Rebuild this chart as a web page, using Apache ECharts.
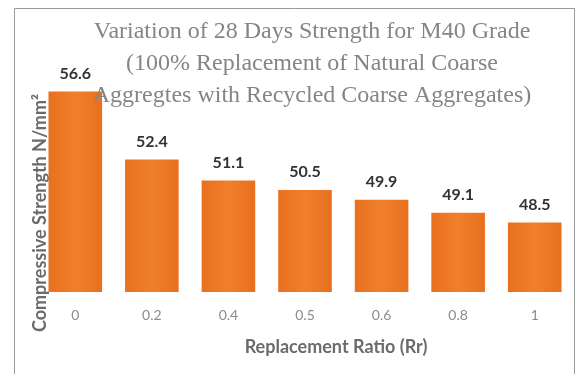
<!DOCTYPE html>
<html>
<head>
<meta charset="utf-8">
<script src="https://cdn.jsdelivr.net/npm/echarts@6/dist/echarts.min.js"></script>
<style>
  html, body { margin: 0; padding: 0; background: #fff; }
  #chart { width: 585px; height: 374px; }
</style>
</head>
<body>
<div id="chart"></div>
<script>
// replacement ratios and 28 day strength values
var ratios = ['0', '0.2', '0.4', '0.5', '0.6', '0.8', '1'];
var strength = [56.6, 52.4, 51.1, 50.5, 49.9, 49.1, 48.5];

var titleLines = [
    'Variation of 28 Days Strength for M40 Grade',
    '(100% Replacement of Natural Coarse',
    'Aggregtes with Recycled Coarse Aggregates)'
];

var myChart = echarts.init(document.getElementById('chart'));
var option = {
    backgroundColor: '#ffffff',
    animation: false,
    title: {
        text: titleLines.join('\n'),
        left: 307,
        top: 11,
        textAlign: 'center',
        textStyle: {
            fontFamily: 'Liberation Serif',
            fontWeight: 'normal',
            fontSize: 24,
            lineHeight: 32,
            color: '#858585'
        }
    },
    grid: {
        left: 37,
        right: 12,
        top: 36.5,
        bottom: 82
    },
    xAxis: {
        type: 'category',
        data: ratios,
        axisLine: { show: false },
        axisTick: { show: false },
        axisLabel: {
            margin: 16,
            fontFamily: 'Lato',
            fontSize: 14,
            color: '#8c8c8c'
        },
        name: 'Replacement Ratio (Rr)',
        nameLocation: 'middle',
        nameGap: 46,
        nameTextStyle: {
            fontFamily: 'Lato',
            fontWeight: 'bold',
            fontSize: 18,
            color: '#6b6b6b',
            padding: [0, 0, 0, 62]
        }
    },
    yAxis: {
        type: 'value',
        min: 44.2,
        max: 60,
        axisLine: { show: false },
        axisTick: { show: false },
        axisLabel: { show: false },
        splitLine: { show: false }
    },
    graphic: [
        {
            type: 'rect',
            shape: { x: 14.5, y: 8.5, width: 560, height: 380 },
            style: { fill: 'none', stroke: '#9a9a9a', lineWidth: 1 },
            silent: true
        },
        {
            type: 'text',
            x: 40,
            y: 213,
            rotation: Math.PI / 2,
            style: {
                text: 'Compressive Strength N/mm²',
                fontFamily: 'Lato',
                fontWeight: 'bold',
                fontSize: 18,
                fill: '#6b6b6b',
                align: 'center',
                verticalAlign: 'middle'
            }
        }
    ],
    series: [{
        name: 'Strength',
        type: 'bar',
        data: strength,
        barCategoryGap: '30%',
        itemStyle: {
            color: new echarts.graphic.LinearGradient(0, 0, 1, 0, [
                { offset: 0, color: '#E8701E' },
                { offset: 0.5, color: '#F07F2C' },
                { offset: 1, color: '#E8701E' }
            ])
        },
        label: {
            show: true,
            position: 'top',
            distance: 10,
            fontFamily: 'Lato',
            fontWeight: 'bold',
            fontSize: 16,
            color: '#333333'
        }
    }]
};
myChart.setOption(option);
</script>
</body>
</html>
